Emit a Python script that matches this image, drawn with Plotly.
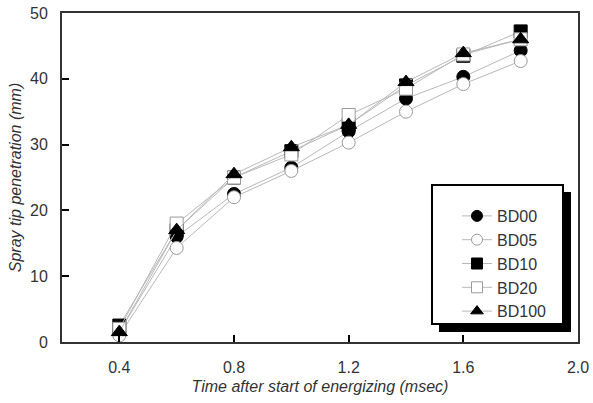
import plotly.graph_objects as go

time_ms = [0.4, 0.6, 0.8, 1.0, 1.2, 1.4, 1.6, 1.8]
bd00 = [1.5, 16.0, 22.5, 26.5, 32.0, 37.0, 40.3, 44.3]
bd05 = [1.0, 14.3, 22.0, 26.0, 30.3, 35.0, 39.2, 42.7]
bd10 = [2.5, 17.0, 25.0, 29.0, 33.0, 39.0, 43.5, 47.2]
bd20 = [2.0, 18.0, 25.0, 28.5, 34.5, 38.5, 43.7, 46.0]
bd100 = [1.5, 17.0, 25.5, 29.6, 33.0, 39.5, 43.9, 46.0]

series = [
    ("BD00", bd00, "circle", "black", "black"),
    ("BD05", bd05, "circle", "white", "#999999"),
    ("BD10", bd10, "square", "black", "black"),
    ("BD20", bd20, "square", "white", "#999999"),
    ("BD100", bd100, "triangle-up", "black", "black"),
]

fig = go.Figure()
for name, vals, sym, fill, edge in series:
    fig.add_trace(go.Scatter(
        x=time_ms, y=vals, name=name, mode="lines+markers", showlegend=False,
        line=dict(color="#b8b8b8", width=1),
        marker=dict(symbol=sym, size=13 if sym != "triangle-up" else 14,
                    color=fill, line=dict(color=edge, width=1)),
    ))
# legend proxies (smaller markers, as in the original legend)
for name, vals, sym, fill, edge in series:
    fig.add_trace(go.Scatter(
        x=[None], y=[None], name=name, mode="lines+markers", showlegend=True,
        line=dict(color="#b8b8b8", width=1),
        marker=dict(symbol=sym, size=11, color=fill, line=dict(color=edge, width=1)),
    ))

L, R, T, B = 62, 578, 13, 342
W, H = R - L, B - T
def px(x):
    return (x - L) / W
def py(y):
    return (B - y) / H

# legend shadow and box
fig.add_shape(type="rect", xref="paper", yref="paper",
              x0=px(439), x1=px(571), y0=py(332), y1=py(192),
              fillcolor="black", line=dict(width=0), layer="above")
fig.add_shape(type="rect", xref="paper", yref="paper",
              x0=px(432), x1=px(563), y0=py(324), y1=py(185),
              fillcolor="white", line=dict(color="black", width=2), layer="above")

fig.update_layout(
    width=593, height=403,
    margin=dict(l=L, r=593 - R, t=T, b=403 - B),
    paper_bgcolor="white", plot_bgcolor="white",
    font=dict(family="Arial, Liberation Sans, sans-serif", color="#333333", size=16),
    showlegend=True,
    legend=dict(x=px(457), y=py(199), xanchor="left", yanchor="top",
                bgcolor="rgba(0,0,0,0)", borderwidth=0,
                font=dict(size=16, color="#333333"), tracegroupgap=0),
    xaxis=dict(range=[0.2, 2.0], tickvals=[0.4, 0.8, 1.2, 1.6, 2.0],
               ticktext=["0.4", "0.8", "1.2", "1.6", "2.0"],
               ticks="inside", ticklen=7, tickwidth=2, tickcolor="black",
               ticklabelstandoff=10, automargin=False,
               showline=True, linecolor="#333333", linewidth=2, mirror=True,
               showgrid=False, zeroline=False,
               title=dict(text="<i>Time after start of energizing (msec)</i>",
                          font=dict(size=16, color="#333333"), standoff=6)),
    yaxis=dict(range=[0, 50], dtick=10,
               ticks="inside", ticklen=7, tickwidth=2, tickcolor="black",
               ticklabelstandoff=9, automargin=False,
               showline=True, linecolor="#333333", linewidth=2, mirror=True,
               showgrid=False, zeroline=False,
               title=dict(text="<i>Spray tip penetration (mm)</i>",
                          font=dict(size=16, color="#333333"), standoff=4)),
)

fig.write_html("out.html")
